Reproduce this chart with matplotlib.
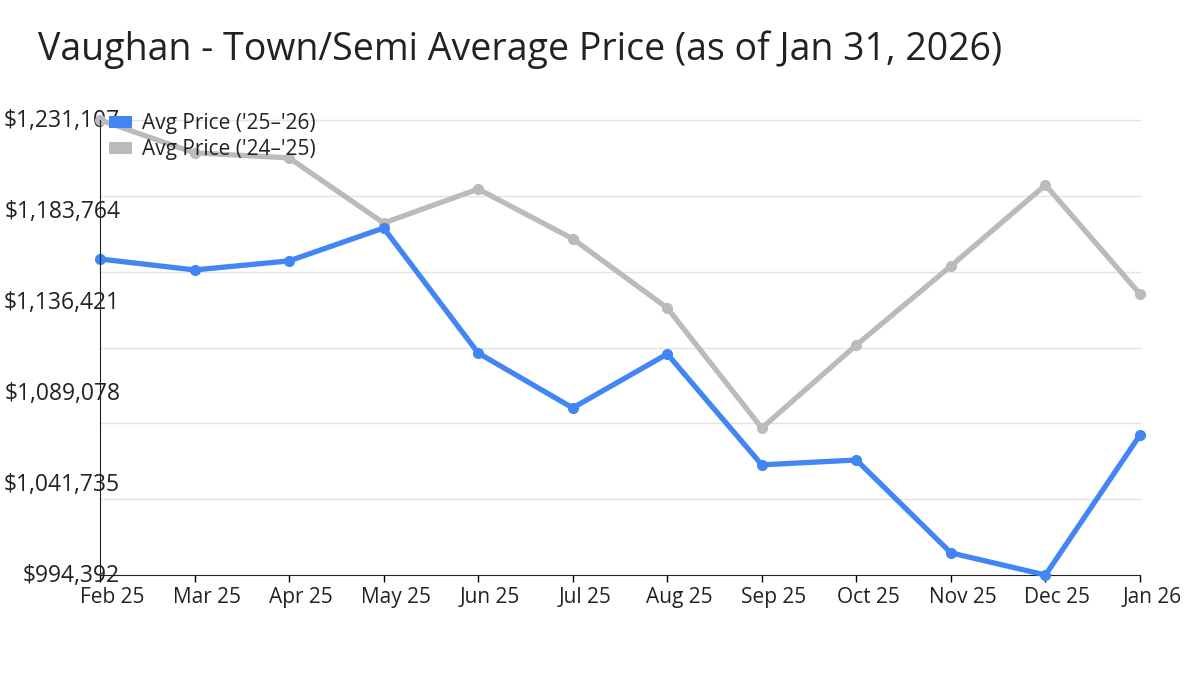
import matplotlib
matplotlib.use("Agg")
import matplotlib.pyplot as plt
import matplotlib.transforms as mtransforms
from matplotlib.patches import Patch

plt.rcParams['font.family'] = ['Open Sans', 'DejaVu Sans']

months = ["Feb 25", "Mar 25", "Apr 25", "May 25", "Jun 25", "Jul 25",
          "Aug 25", "Sep 25", "Oct 25", "Nov 25", "Dec 25", "Jan 26"]
avg_25_26 = [1158791, 1153100, 1157800, 1174900, 1109887, 1081300,
             1109367, 1051700, 1054221, 1005900, 994392, 1067227]
avg_24_25 = [1231107, 1214000, 1211400, 1177500, 1195209, 1169300,
             1133299, 1070869, 1114050, 1155149, 1197289, 1140582]
y_labels = [994392, 1041735, 1089078, 1136421, 1183764, 1231107]
title = "Vaughan - Town/Semi Average Price (as of Jan 31, 2026)"
label_a = "Avg Price ('25\u2013'26)"
label_b = "Avg Price ('24\u2013'25)"

blue = '#4285F4'
grey = '#BBBBBB'

fig = plt.figure(figsize=(12, 6.75), dpi=100)
ax = fig.add_axes([100/1200, 100/675, 1040/1200, 455/675])

x = list(range(len(months)))
ax.plot(x, avg_24_25, color=grey, lw=3.8, marker='o', ms=7, clip_on=False, zorder=3)
ax.plot(x, avg_25_26, color=blue, lw=3.8, marker='o', ms=7, clip_on=False, zorder=4)

ymin, ymax = y_labels[0], y_labels[-1]
ax.set_ylim(ymin, ymax)
ax.set_xlim(0, len(months) - 1)

# gridlines: 6 equal divisions
step = (ymax - ymin) / 6
for i in range(1, 7):
    ax.axhline(ymin + i * step, color='#E3E3E3', lw=1, zorder=1, clip_on=False)

ax.set_yticks(y_labels)
ax.set_yticklabels([f"${v:,}" for v in y_labels])
ax.tick_params(axis='y', which='major', length=0, pad=-14.5, labelsize=16.5,
               labelcolor='#222222')
for lab in ax.get_yticklabels():
    lab.set_horizontalalignment('right')
    lab.set_transform(lab.get_transform() + mtransforms.ScaledTranslation(0, 2/100, fig.dpi_scale_trans))

ax.set_xticks(x)
ax.set_xticklabels(months)
ax.tick_params(axis='x', length=5, width=1, pad=3.5, labelsize=15, labelcolor='#222222')
off = mtransforms.ScaledTranslation(12/100, 0, fig.dpi_scale_trans)
for lab in ax.get_xticklabels():
    lab.set_transform(lab.get_transform() + off)

for s in ['top', 'right']:
    ax.spines[s].set_visible(False)
ax.spines['left'].set_color('#222222')
ax.spines['bottom'].set_color('#222222')
ax.spines['left'].set_zorder(5)

handles = [Patch(facecolor=blue, edgecolor='none'), Patch(facecolor=grey, edgecolor='none')]
leg = fig.legend(handles, [label_a, label_b], loc='upper left',
                 bbox_to_anchor=(109/1200, 1 - 113/675), frameon=False,
                 fontsize=15, handlelength=1.1, handleheight=0.5,
                 handletextpad=0.5, labelspacing=0.25, borderaxespad=0, borderpad=0)
for t in leg.get_texts():
    t.set_color('#222222')
leg.set_zorder(10)

fig.text(38/1200, 1 - 60/675, title, fontsize=27, color='#222222', va='baseline', ha='left')

fig.savefig('out.png', dpi=100, facecolor='white')
